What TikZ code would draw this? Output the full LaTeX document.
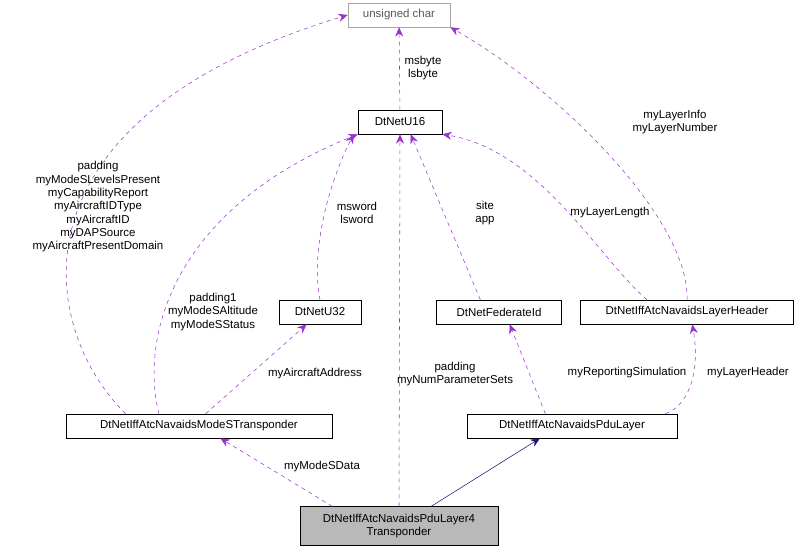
\documentclass[tikz,border=0pt]{standalone}
\usepackage{fontspec}
\setmainfont{Liberation Sans}
\usetikzlibrary{arrows.meta}
\definecolor{purp}{HTML}{9A32CD}
\definecolor{navyb}{HTML}{191970}
\begin{document}
\begin{tikzpicture}[x=0.75pt,y=-0.75pt,font=\fontsize{8.6}{10}\selectfont,
  box/.style={draw=black,fill=white,minimum height=18pt,inner xsep=3pt,inner ysep=0pt},
  use/.style={draw=purp,dashed,-{Stealth[length=7pt,width=6pt]},fill=none},
  inh/.style={draw=navyb,-{Stealth[length=7pt,width=6pt,fill=navyb]}},
  lab/.style={align=center,inner sep=0pt}]
\useasboundingbox (0,0) rectangle (805,552);
\node[box,draw=gray!70,text=gray!70!black,minimum width=76.5pt] (uc) at (399,15) {unsigned char};
\node[box,minimum width=63pt] (u16) at (400,122) {DtNetU16};
\node[box,minimum width=61.5pt] (u32) at (320,312) {DtNetU32};
\node[box,minimum width=93.75pt] (fed) at (499,312) {DtNetFederateId};
\node[box,minimum width=159.75pt] (lh) at (687,312) {DtNetIffAtcNavaidsLayerHeader};
\node[box,minimum width=199.5pt] (ms) at (199,426) {DtNetIffAtcNavaidsModeSTransponder};
\node[box,minimum width=157.5pt] (pdu) at (572,426) {DtNetIffAtcNavaidsPduLayer};
\node[box,fill=gray!55,minimum width=148.5pt,minimum height=29pt,align=center] (bot) at (399,526) {DtNetIffAtcNavaidsPduLayer4\\Transponder};

\draw[use] (u16) -- (uc);
\node[lab] at (423,68) {msbyte\\lsbyte};
\draw[use] (lh.north) .. controls (690,220) and (560,90) .. (uc.south east);
\node[lab] at (675,122) {myLayerInfo\\myLayerNumber};
\draw[use] ([xshift=-55pt]ms.north) .. controls (40,330) and (0,120) .. (uc.west);
\node[lab] at (98,207) {padding\\myModeSLevelsPresent\\myCapabilityReport\\myAircraftIDType\\myAircraftID\\myDAPSource\\myAircraftPresentDomain};
\draw[use] ([xshift=-30pt]ms.north) .. controls (140,340) and (170,210) .. (u16.south west);
\node[lab] at (213,312) {padding1\\myModeSAltitude\\myModeSStatus};
\draw[use] (u32.north) .. controls (310,250) and (330,180) .. ([xshift=-3pt]u16.south west);
\node[lab] at (357,213) {msword\\lsword};
\draw[use] ([xshift=-14pt]fed.north) -- ([xshift=8pt]u16.south);
\node[lab] at (485,213) {site\\app};
\draw[use] ([xshift=-30pt]lh.north) .. controls (600,260) and (540,150) .. (u16.south east);
\node[lab] at (610,213) {myLayerLength};
\draw[use] (bot.north) -- (u16.south);
\node[lab] at (455,374) {padding\\myNumParameterSets};
\draw[use] ([xshift=5pt]ms.north) -- ([xshift=-10pt]u32.south);
\node[lab] at (315,374) {myAircraftAddress};
\draw[use] ([xshift=-50pt]bot.north) -- ([xshift=16pt]ms.south);
\node[lab] at (322,467) {myModeSData};
\draw[use] ([xshift=-20pt]pdu.north) -- ([xshift=8pt]fed.south);
\node[lab] at (627,373) {myReportingSimulation};
\draw[use] ([xshift=70pt]pdu.north) .. controls (690,405) and (700,370) .. ([xshift=4pt]lh.south);
\node[lab] at (748,373) {myLayerHeader};
\draw[inh] ([xshift=24pt]bot.north) -- ([xshift=-24pt]pdu.south);
\end{tikzpicture}
\end{document}
